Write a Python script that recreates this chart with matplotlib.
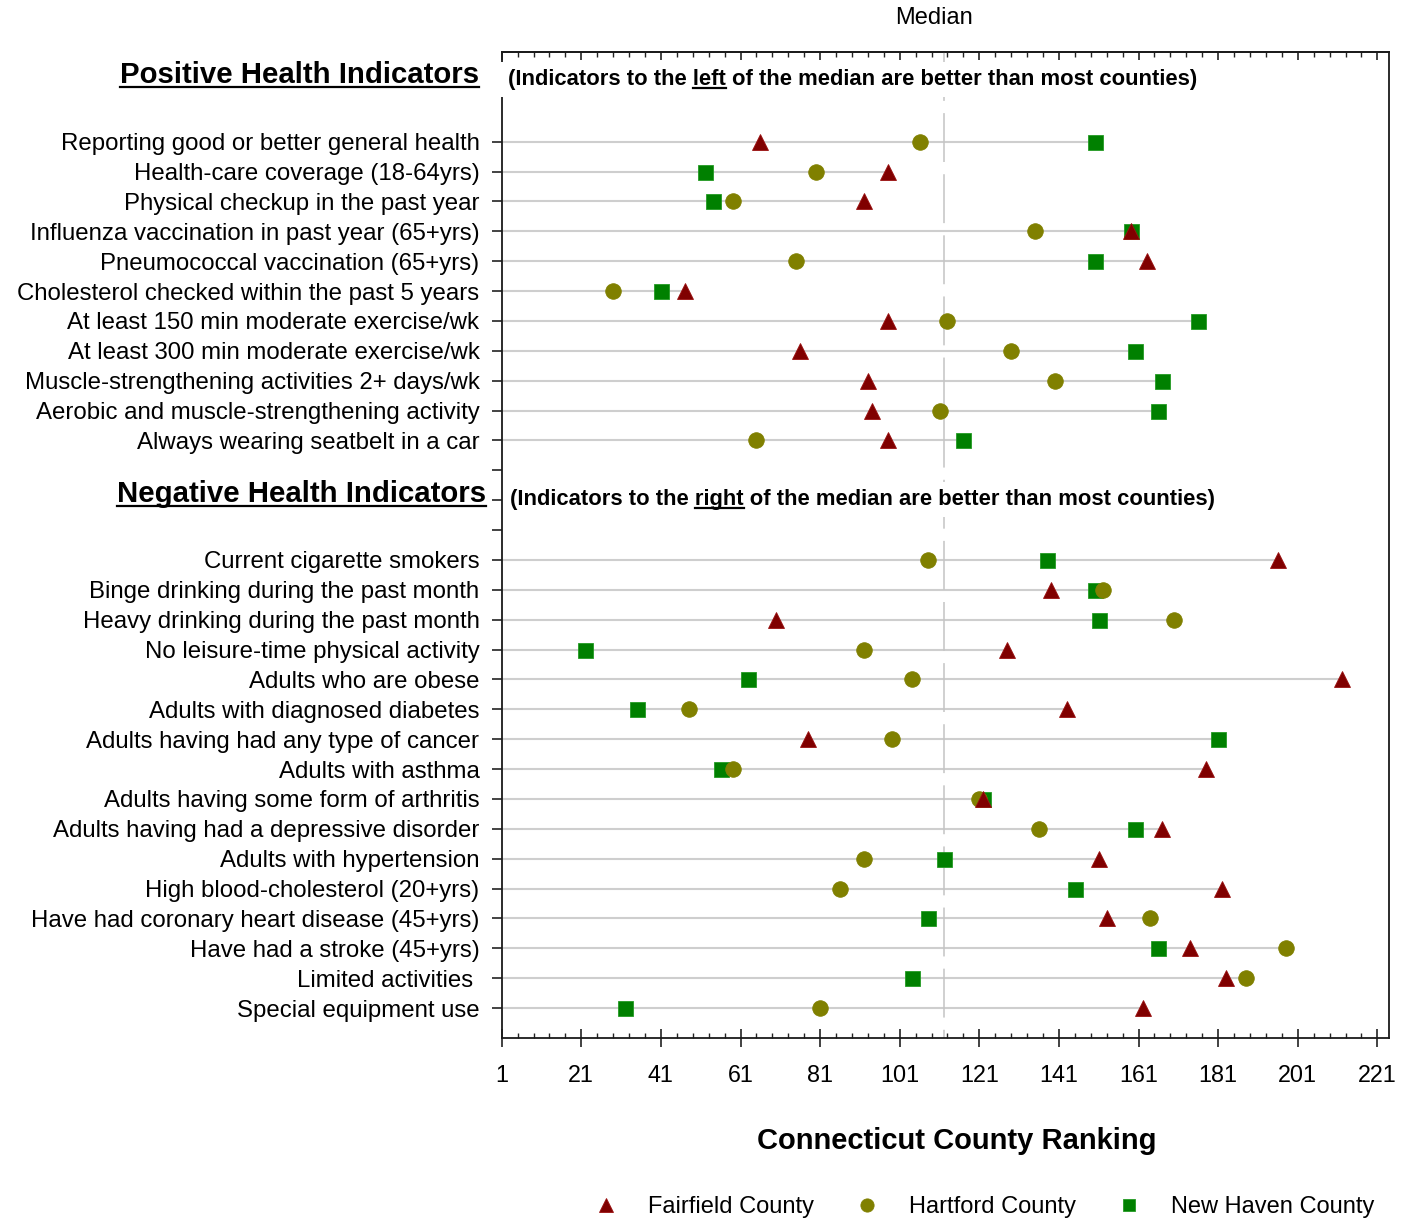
import matplotlib
matplotlib.use('Agg')
import matplotlib.pyplot as plt
import matplotlib.transforms as mtransforms
from matplotlib.lines import Line2D
import numpy as np

plt.rcParams['font.family'] = ['Liberation Sans', 'DejaVu Sans']

# ---------------- data ----------------
pos_labels = [
    "Reporting good or better general health",
    "Health-care coverage (18-64yrs)",
    "Physical checkup in the past year",
    "Influenza vaccination in past year (65+yrs)",
    "Pneumococcal vaccination (65+yrs)",
    "Cholesterol checked within the past 5 years",
    "At least 150 min moderate exercise/wk",
    "At least 300 min moderate exercise/wk",
    "Muscle-strengthening activities 2+ days/wk",
    "Aerobic and muscle-strengthening activity",
    "Always wearing seatbelt in a car",
]
pos_fairfield = [66, 98, 92, 159, 163, 47, 98, 76, 93, 94, 98]
pos_hartford = [106, 80, 59, 135, 75, 29, 113, 129, 140, 111, 65]
pos_newhaven = [150, 52, 54, 159, 150, 41, 176, 160, 167, 166, 117]

neg_labels = [
    "Current cigarette smokers",
    "Binge drinking during the past month",
    "Heavy drinking during the past month",
    "No leisure-time physical activity",
    "Adults who are obese",
    "Adults with diagnosed diabetes",
    "Adults having had any type of cancer",
    "Adults with asthma",
    "Adults having some form of arthritis",
    "Adults having had a depressive disorder",
    "Adults with hypertension",
    "High blood-cholesterol (20+yrs)",
    "Have had coronary heart disease (45+yrs)",
    "Have had a stroke (45+yrs)",
    "Limited activities ",
    "Special equipment use",
]
neg_fairfield = [196, 139, 70, 128, 212, 143, 78, 178, 122, 167, 151, 182, 153, 174, 183, 162]
neg_hartford = [108, 152, 170, 92, 104, 48, 99, 59, 121, 136, 92, 86, 164, 198, 188, 81]
neg_newhaven = [138, 150, 151, 22, 63, 35, 181, 56, 122, 160, 112, 145, 108, 166, 104, 32]

series_names = ["Fairfield County", "Hartford County", "New Haven County"]
median_rank = 112
x_ticks = [1, 21, 41, 61, 81, 101, 121, 141, 161, 181, 201, 221]
x_label = "Connecticut County Ranking"
pos_title = "Positive Health Indicators"
neg_title = "Negative Health Indicators"
pos_note = ("(Indicators to the ", "left", " of the median are better than most counties)")
neg_note = ("(Indicators to the ", "right", " of the median are better than most counties)")

# ---------------- layout ----------------
W, H = 1413, 1220
fig = plt.figure(figsize=(W / 100, H / 100), dpi=100)
ax = fig.add_axes([501.7 / W, 1 - 1038 / H, (1389.3 - 501.7) / W, (1038 - 52) / H])

pos_slots = np.arange(3, 3 + len(pos_labels))
neg_slots = np.arange(17, 17 + len(neg_labels))
slots = np.concatenate([pos_slots, neg_slots])
labels = pos_labels + neg_labels
fair = np.array(pos_fairfield + neg_fairfield)
hart = np.array(pos_hartford + neg_hartford)
newh = np.array(pos_newhaven + neg_newhaven)

c_fair = '#800000'
c_hart = '#808000'
c_newh = '#008000'

# row lines from left edge up to the right-most marker
row_max = np.maximum(np.maximum(fair, hart), newh)
ax.hlines(slots, 1, row_max, color='#cecece', lw=1.5, zorder=1)

# median line
ax.plot([median_rank, median_rank], [0, 33], color='#c4c4c4', lw=1.1,
        dashes=(32, 8), zorder=1.5)

ln = ax.plot(newh, slots, ls='none', marker='s', ms=10.8, mfc=c_newh, mec='#239a23',
             mew=0.6, zorder=3, label=series_names[2])[0]
lh = ax.plot(hart, slots, ls='none', marker='o', ms=11.2, mfc=c_hart, mec=c_hart,
             mew=0.6, zorder=4, label=series_names[1])[0]
lf = ax.plot(fair, slots, ls='none', marker='^', ms=12.2, mfc=c_fair, mec='#9a1010',
             mew=0.6, zorder=5, label=series_names[0])[0]

ax.set_xlim(1, 224)
ax.set_ylim(33, 0)

ax.set_xticks(x_ticks)
ax.set_xticks(np.arange(1, 222, 4), minor=True)
ax.set_yticks(slots, labels)
ax.set_yticks([14, 15, 16], minor=True)

ax.tick_params(axis='y', which='both', direction='out', length=7, width=1.2,
               labelsize=17.3, pad=9, left=True, right=False, color='#222222')
ax.tick_params(axis='x', which='major', direction='inout', length=13, width=1.2,
               labelsize=16.8, pad=12.5, color='#222222')
ax.tick_params(axis='x', which='minor', direction='in', length=3.6, width=1.0,
               color='#222222')

for sp in ax.spines.values():
    sp.set_linewidth(1.3)
    sp.set_color('#1a1a1a')

secax = ax.secondary_xaxis('top')
secax.set_xticks(x_ticks)
secax.set_xticks(np.arange(1, 222, 4), minor=True)
secax.tick_params(which='major', direction='in', length=5.5, width=1.2, labeltop=False,
                  color='#222222')
secax.tick_params(which='minor', direction='in', length=3.5, width=1.0, color='#222222')
secax.spines['top'].set_linewidth(1.3)
secax.spines['top'].set_color('#1a1a1a')

trans = mtransforms.blended_transform_factory(ax.transAxes, ax.transData)

t_pos = ax.text(-0.0256, 1.05, pos_title, transform=trans, ha='right', va='baseline',
                fontsize=21.2, fontweight='bold')
t_neg = ax.text(-0.0177, 15.07, neg_title, transform=trans, ha='right', va='baseline',
                fontsize=21.2, fontweight='bold')

note_kw = dict(fontsize=15.8, fontweight='bold')
n_pos = ax.text(0.0074, 1.1, ''.join(pos_note), transform=trans, ha='left', va='baseline',
                bbox=dict(facecolor='white', edgecolor='none', pad=5), zorder=6, **note_kw)
n_neg = ax.text(0.0094, 15.15, ''.join(neg_note), transform=trans, ha='left', va='baseline',
                bbox=dict(facecolor='white', edgecolor='none', pad=5), zorder=6, **note_kw)

fig.text(934 / W, 1 - 18 / H, "Median", ha='center', va='center', fontsize=17)
fig.text(957 / W, 1 - 1141 / H, x_label, ha='center', va='center', fontsize=21,
         fontweight='bold')

fig.legend([lf, lh, ln], series_names, loc='center', bbox_to_anchor=(978.7 / W, 1 - 1207 / H),
           ncol=3, frameon=False, fontsize=17, handletextpad=0.78, columnspacing=1.25,
           markerscale=0.85, borderaxespad=0, borderpad=0)

# ---------------- underlines ----------------
fig.canvas.draw()
renderer = fig.canvas.get_renderer()


def measure(s, **kw):
    t = fig.text(0, 0, s, **kw)
    w = t.get_window_extent(renderer).width
    t.remove()
    return w


def add_hline_px(x0, x1, y, lw):
    fig.add_artist(Line2D([x0 / W, x1 / W], [y / H, y / H], color='black', lw=lw,
                          transform=fig.transFigure))


def baseline_px(t):
    return t.get_transform().transform(t.get_position())


for t in (t_pos, t_neg):
    bb = t.get_window_extent(renderer)
    bx, by = baseline_px(t)
    add_hline_px(bb.x0, bb.x1, by - 3.5, 1.6)

for t, parts in ((n_pos, pos_note), (n_neg, neg_note)):
    bx, by = baseline_px(t)
    w_all = measure(parts[0] + parts[1], **note_kw)
    w_word = measure(parts[1], **note_kw)
    add_hline_px(bx + w_all - w_word, bx + w_all, by - 3.5, 1.6)

fig.savefig('out.png', dpi=100)
